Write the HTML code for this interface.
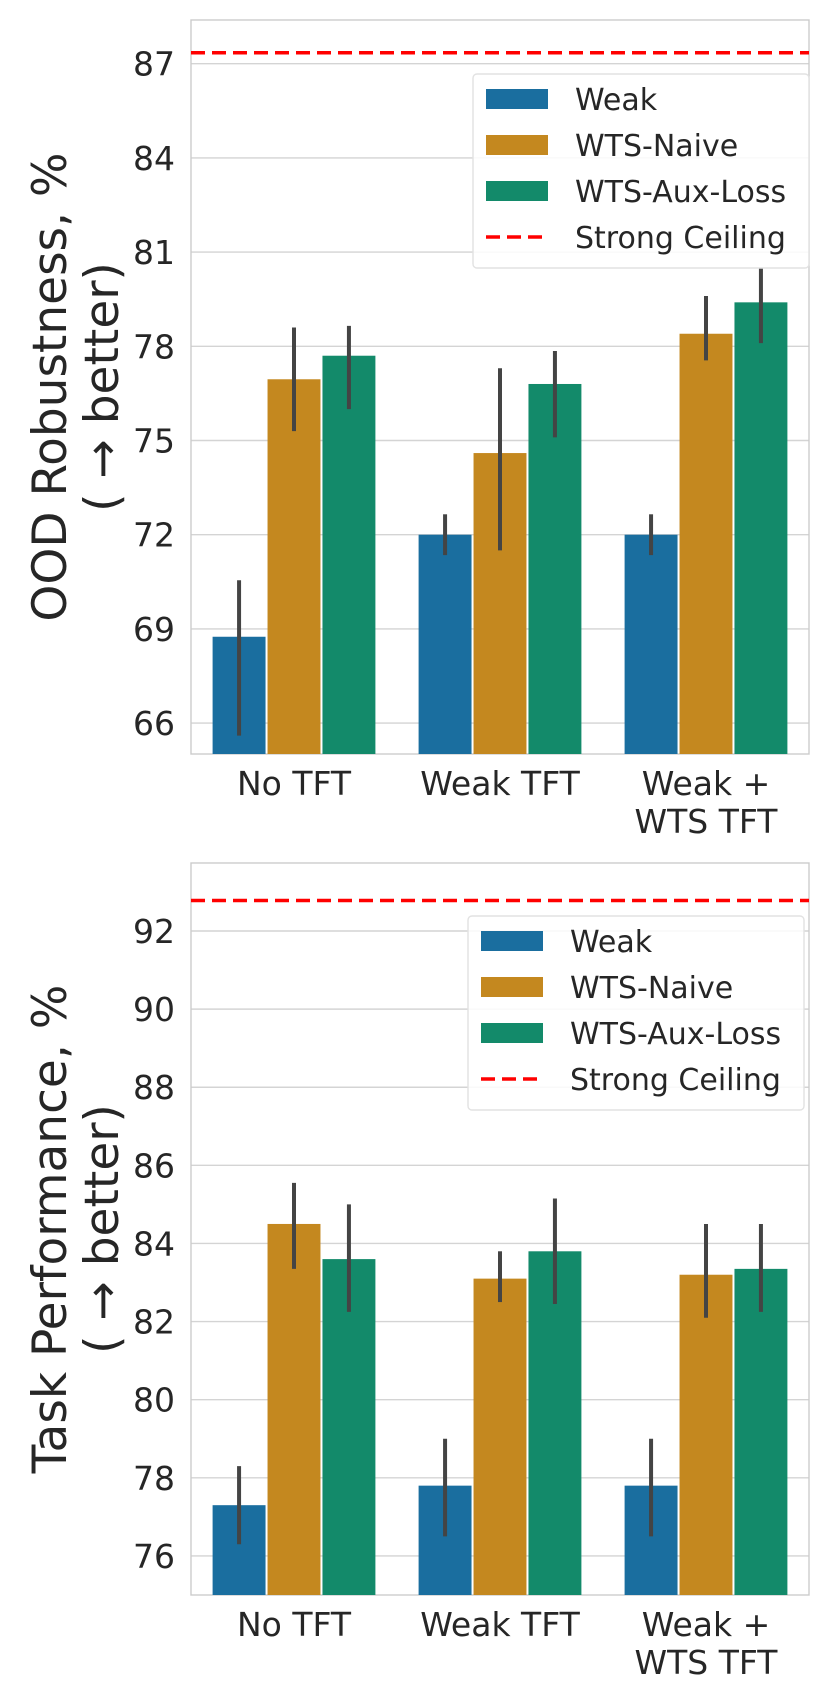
<!DOCTYPE html>
<html><head><meta charset="utf-8"><style>
html,body{margin:0;padding:0;background:#fff;}
svg{display:block;font-family:"DejaVu Sans","Liberation Sans",sans-serif;}
</style></head><body>
<svg id="chart" width="831" height="1704" viewBox="0 0 831 1704"></svg>
<script>
const categories = ["No TFT", "Weak TFT", "Weak +\nWTS TFT"];
const seriesNames = ["Weak", "WTS-Naive", "WTS-Aux-Loss"];
const colors = ["#1a6e9f", "#c4881f", "#138a6a"];
// Top panel: OOD robustness
const oodWeak = [68.75, 72.0, 72.0];
const oodWeakLo = [65.6, 71.35, 71.35];
const oodWeakHi = [70.55, 72.65, 72.65];
const oodNaive = [76.95, 74.6, 78.4];
const oodNaiveLo = [75.3, 71.5, 77.55];
const oodNaiveHi = [78.6, 77.3, 79.6];
const oodAux = [77.7, 76.8, 79.4];
const oodAuxLo = [76.0, 75.1, 78.1];
const oodAuxHi = [78.65, 77.85, 80.5];
const oodCeiling = 87.35;
const oodTicks = [66, 69, 72, 75, 78, 81, 84, 87];
// Bottom panel: task performance
const taskWeak = [77.3, 77.8, 77.8];
const taskWeakLo = [76.3, 76.5, 76.5];
const taskWeakHi = [78.3, 79.0, 79.0];
const taskNaive = [84.5, 83.1, 83.2];
const taskNaiveLo = [83.35, 82.5, 82.1];
const taskNaiveHi = [85.55, 83.8, 84.5];
const taskAux = [83.6, 83.8, 83.35];
const taskAuxLo = [82.25, 82.45, 82.25];
const taskAuxHi = [85.0, 85.15, 84.5];
const taskCeiling = 92.78;
const taskTicks = [76, 78, 80, 82, 84, 86, 88, 90, 92];

const NS = "http://www.w3.org/2000/svg";
const svg = document.getElementById("chart");
function mk(tag, attrs, parent) {
  const e = document.createElementNS(NS, tag);
  for (const k in attrs) e.setAttribute(k, attrs[k]);
  (parent || svg).appendChild(e);
  return e;
}

function panel(p) {
  const g = mk("g", {});
  
  
  const x0 = 191, x1 = 809;
  const y = v => p.refY + (p.refV - v) * p.ppu;
  p.ticks.forEach(t => {
    const l = mk("line", {x1: x0, x2: x1, y1: y(t), y2: y(t), stroke: "#d4d4d4", "stroke-width": 1.4}, g);
    
    
    const tx = mk("text", {x: x0 - 16, y: y(t) + 12, "text-anchor": "end", "font-size": 33, fill: "#262626"}, g);
    tx.textContent = t;
    
    
  });
  const frame = mk("rect", {x: x0, y: p.top, width: x1 - x0, height: p.bottom - p.top, fill: "none", stroke: "#cccccc", "stroke-width": 1.4}, g);
  
  
  const catW = (x1 - x0) / categories.length;
  const bw = catW * 0.8 / 3;
  const vals = [p.weak, p.naive, p.aux], los = [p.weakLo, p.naiveLo, p.auxLo], his = [p.weakHi, p.naiveHi, p.auxHi];
  categories.forEach((c, i) => {
    const cx = x0 + catW * (i + 0.5);
    for (let s = 0; s < 3; s++) {
      const bx = cx - 1.5 * bw + s * bw;
      const yt = y(vals[s][i]);
      const r = mk("rect", {x: bx + 1, y: yt, width: bw - 2, height: p.bottom - yt, fill: colors[s]}, g);
      
      
      const eb = mk("line", {x1: bx + bw / 2, x2: bx + bw / 2, y1: y(los[s][i]), y2: y(his[s][i]), stroke: "#444", "stroke-width": 4}, g);
      
      
    }
    const lines = c.split("\n");
    lines.forEach((ln, k) => {
      const t = mk("text", {x: cx, y: p.bottom + 41 + k * 38, "text-anchor": "middle", "font-size": 33, fill: "#262626"}, g);
      t.textContent = ln;
      
      
    });
  });
  const cl = mk("line", {x1: x0, x2: x1, y1: y(p.ceiling), y2: y(p.ceiling), stroke: "#ff0000", "stroke-width": 3.5, "stroke-dasharray": "14,7"}, g);
  
  
  const ty = mk("text", {transform: `translate(66,${(p.top + p.bottom) / 2}) rotate(-90)`, "text-anchor": "middle", "font-size": 47, fill: "#262626"}, g);
  
  
  const t1 = mk("tspan", {x: 0, dy: 0}, ty); t1.textContent = p.title;
  const t2 = mk("tspan", {x: 0, dy: 52}, ty); t2.textContent = "( \u2192 better)";
  const lg = mk("g", {}, g);
  
  
  const lb = mk("rect", {x: p.lx, y: p.ly, width: 336, height: 194, rx: 4, fill: "#fff", "fill-opacity": 0.85, stroke: "#e2e2e2", "stroke-width": 1.4}, lg);
  
  
  const labels = seriesNames.concat(["Strong Ceiling"]);
  labels.forEach((n, k) => {
    const ry = p.ly + 15 + k * 46;
    let m;
    if (k < 3) m = mk("rect", {x: p.lx + 13, y: ry, width: 62, height: 20, fill: colors[k]}, lg);
    else m = mk("line", {x1: p.lx + 13, x2: p.lx + 75, y1: ry + 10, y2: ry + 10, stroke: "#ff0000", "stroke-width": 3.5, "stroke-dasharray": "14,7"}, lg);
    
    
    const t = mk("text", {x: p.lx + 102, y: ry + 21, "font-size": 30, fill: "#262626"}, lg);
    t.textContent = n;
    
    
  });
}

panel({name: "ood-robustness-panel", top: 20, bottom: 754, refY: 63.7, refV: 87, ppu: 31.4, ticks: oodTicks,
  weak: oodWeak, weakLo: oodWeakLo, weakHi: oodWeakHi, naive: oodNaive, naiveLo: oodNaiveLo, naiveHi: oodNaiveHi,
  aux: oodAux, auxLo: oodAuxLo, auxHi: oodAuxHi, ceiling: oodCeiling, title: "OOD Robustness, %", lx: 473, ly: 74});
panel({name: "task-performance-panel", top: 863, bottom: 1595, refY: 931, refV: 92, ppu: 39.06, ticks: taskTicks,
  weak: taskWeak, weakLo: taskWeakLo, weakHi: taskWeakHi, naive: taskNaive, naiveLo: taskNaiveLo, naiveHi: taskNaiveHi,
  aux: taskAux, auxLo: taskAuxLo, auxHi: taskAuxHi, ceiling: taskCeiling, title: "Task Performance, %", lx: 468, ly: 916});
</script>
</body></html>
